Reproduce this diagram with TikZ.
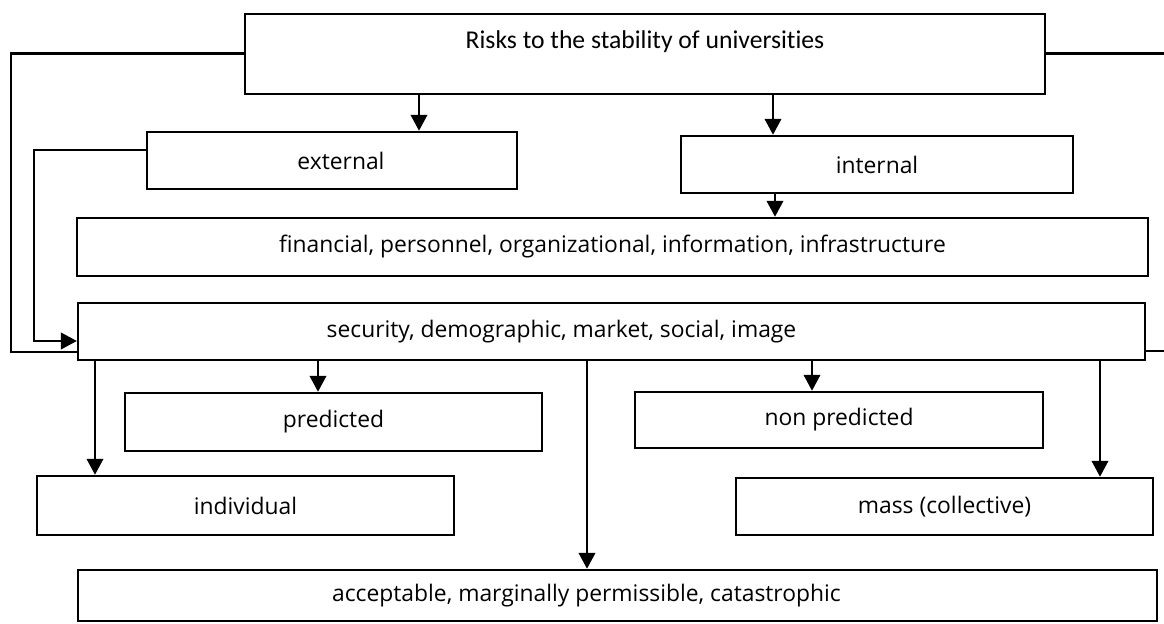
\documentclass[tikz,border=0pt]{standalone}
\usepackage{fontspec}
\setmainfont{Open Sans}
\newfontfamily\titlefont[Ligatures=NoCommon]{Carlito}
\usetikzlibrary{arrows.meta}
\tikzset{
  box/.style={draw=black, line width=1.5pt, inner sep=0pt, font=\fontsize{13}{15}\selectfont},
  link/.style={line width=0.8pt, -{Triangle[length=9pt,width=9.5pt]}},
  loopline/.style={line width=1.7pt},
}

\begin{document}
\begin{tikzpicture}[x=0.02cm, y=-0.02cm]
  \useasboundingbox (0,0) rectangle (1164,624);

  \node[box, minimum width=16cm, minimum height=1.6cm, font=\titlefont\fontsize{14.6}{16}\selectfont, text depth=16pt] (risks) at (645,54) {Risks to the stability of universities};
  \node[box, minimum width=7.4cm, minimum height=1.14cm] (ext) at (332,160.5) {\hspace*{0.36cm}external};
  \node[box, minimum width=7.84cm, minimum height=1.14cm] (int) at (877,164.5) {internal};
  \node[box, minimum width=21.42cm, minimum height=1.16cm] (fin) at (612.5,247) {financial, personnel, organizational, information, infrastructure};
  \node[box, minimum width=21.34cm, minimum height=1.14cm] (sec) at (611.5,331.5) {security, demographic, market, social, image\hspace*{2cm}};
  \node[box, minimum width=8.34cm, minimum height=1.16cm] (pred) at (333.5,422) {predicted};
  \node[box, minimum width=8.16cm, minimum height=1.12cm] (npred) at (839,420) {non predicted};
  \node[box, minimum width=8.34cm, minimum height=1.18cm] (indiv) at (245.5,505.5) {individual};
  \node[box, minimum width=8.34cm, minimum height=1.14cm] (mass) at (944.5,506.5) {mass (collective)};
  \node[box, minimum width=21.58cm, minimum height=1.02cm] (accept) at (617.5,595.5) {acceptable, marginally permissible, catastrophic\hspace*{1.24cm}};

  \coordinate (edgetop) at (1164,54);
  \coordinate (edgemid) at (1164,351);

  \draw[link] (risks.south -| 419,0) -- (ext.north -| 419,0);
  \draw[link] (risks.south -| 773,0) -- (int.north -| 773,0);
  \draw[link] (int.south -| 775,0) -- (fin.north -| 775,0);

  \draw[link] (sec.south -| 95,0) -- (indiv.north -| 95,0);
  \draw[link] (sec.south -| 318,0) -- (pred.north -| 318,0);
  \draw[link] (sec.south -| 587,0) -- (accept.north -| 587,0);
  \draw[link] (sec.south -| 812,0) -- (npred.north -| 812,0);
  \draw[link] (sec.south -| 1100,0) -- (mass.north -| 1100,0);

  \draw[link] (ext.west |- 0,150) -- (34,150) |- (sec.west |- 0,341);
  \draw[loopline] (risks.west) -- (11,54) |- (sec.west |- 0,352);
  \draw[loopline] (risks.east) -- (edgetop);
  \draw[loopline] (sec.east |- edgemid) -- (edgemid);
\end{tikzpicture}
\end{document}
